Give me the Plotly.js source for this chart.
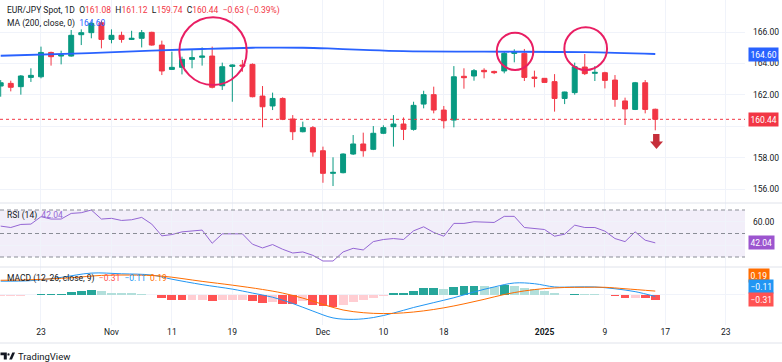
<!DOCTYPE html>
<html><head><meta charset="utf-8">
<script src="https://cdn.plot.ly/plotly-3.0.1.min.js"></script>
<style>html,body{margin:0;padding:0;background:#fff;}#chart{width:782px;height:362px;}</style>
</head><body><div id="chart"></div>
<script>
// ---------- data ----------
const dates = ['Oct 17','Oct 18','Oct 21','Oct 22','Oct 23','Oct 24','Oct 25','Oct 28','Oct 29','Oct 30','Oct 31','Nov 1','Nov 4','Nov 5','Nov 6','Nov 7','Nov 8','Nov 11','Nov 12','Nov 13','Nov 14','Nov 15','Nov 18','Nov 19','Nov 20','Nov 21','Nov 22','Nov 25','Nov 26','Nov 27','Nov 28','Nov 29','Dec 2','Dec 3','Dec 4','Dec 5','Dec 6','Dec 9','Dec 10','Dec 11','Dec 12','Dec 13','Dec 16','Dec 17','Dec 18','Dec 19','Dec 20','Dec 23','Dec 24','Dec 25','Dec 26','Dec 27','Dec 30','Dec 31','Jan 1','Jan 2','Jan 3','Jan 6','Jan 7','Jan 8','Jan 9','Jan 10','Jan 13','Jan 14','Jan 15','Jan 16'];
const openP  = [162.56,162.73,162.52,163.11,163.15,164.70,164.47,164.47,165.83,165.96,166.59,165.53,165.79,165.53,165.60,165.98,165.17,163.62,163.75,164.26,164.39,164.47,162.58,163.81,163.90,163.94,161.92,161.29,161.77,160.46,159.65,159.91,158.44,157.00,157.04,158.23,158.87,158.53,159.55,159.97,160.14,159.80,161.41,162.01,161.03,160.39,163.18,163.20,163.56,163.49,163.52,164.64,164.64,163.13,163.05,162.84,161.77,162.14,163.77,163.37,163.41,162.94,161.61,161.07,162.77,161.08];
const highP  = [162.94,162.90,163.26,163.69,165.07,164.75,164.81,166.13,166.17,166.66,166.72,166.17,166.02,166.08,166.13,166.02,165.45,164.75,164.43,164.85,165.02,165.07,164.05,163.94,164.22,164.00,162.56,162.14,161.84,160.71,160.29,160.01,158.70,158.02,158.27,159.44,159.59,160.01,160.06,160.71,160.56,161.56,162.26,162.52,161.29,163.83,163.69,163.64,163.69,163.54,164.75,164.90,164.92,163.54,163.07,163.32,162.20,164.05,164.60,163.83,163.47,163.26,161.82,162.82,162.94,161.12];
const lowP   = [161.88,162.22,162.01,162.82,163.05,163.86,163.94,164.43,165.17,165.60,164.96,165.28,165.32,165.49,165.02,165.13,163.26,163.58,163.30,163.69,163.86,162.41,162.31,161.56,163.47,161.84,159.93,161.03,160.39,159.12,159.61,158.06,156.40,156.19,157.00,158.17,158.06,158.48,159.50,158.70,159.12,159.72,161.14,160.82,159.86,159.93,162.39,162.90,163.05,163.32,163.37,164.07,162.88,162.48,162.77,160.93,161.41,162.01,163.26,162.88,162.41,161.24,160.08,161.03,160.82,159.74];
const closeP = [162.77,162.48,163.20,163.24,164.70,164.43,164.54,165.79,165.96,166.55,165.53,165.79,165.53,165.60,165.96,165.17,163.52,163.75,164.26,164.37,164.47,162.48,163.79,163.90,163.83,161.88,161.24,161.77,160.44,159.65,159.91,158.36,157.00,157.06,158.23,158.87,158.44,159.55,159.91,160.14,159.80,161.33,162.01,161.03,160.35,163.15,163.09,163.54,163.47,163.41,164.64,164.75,163.11,163.05,162.79,161.77,162.18,163.79,163.35,163.43,162.92,161.71,161.10,162.77,161.07,160.44];
// 200-day moving average, read at points along the line (bar index, value)
const maBar = [0,8,15,20,25,30,33,36,40,48,58,65];
const maVal = [164.49,164.64,164.81,164.92,165.00,165.00,164.94,164.86,164.78,164.75,164.72,164.60];
const rsi = [56.3,55.1,57.7,58.0,64.3,62.3,62.3,67.1,67.7,70.0,62.3,62.9,61.1,61.7,63.7,58.0,48.0,49.1,51.4,52.3,52.9,41.7,49.7,49.7,49.7,40.9,37.7,40.6,36.6,33.4,34.3,31.4,26.6,26.6,34.3,37.4,36.0,43.1,44.9,45.7,44.9,52.3,55.7,50.9,47.7,58.6,58.6,60.0,60.0,59.4,64.6,64.6,55.1,54.3,53.4,47.7,49.4,57.1,55.1,55.1,52.0,45.7,43.1,51.4,44.3,42.04];
const macdBar = [0,3,6,9,12,15,17,20,23,25,27,29,31,33,35,37,39,41,43,45,47,49,51,53,55,57,59,61,63,65];
const macdVal = [0.74,0.77,0.95,1.19,1.15,1.08,0.85,0.55,0.30,0.08,-0.15,-0.50,-0.92,-1.30,-1.38,-1.28,-1.03,-0.72,-0.45,-0.18,0.14,0.42,0.64,0.60,0.42,0.42,0.42,0.32,0.16,-0.11];
const signalBar = [0,3,7,10,13,16,20,23,26,28,30,32,34,36,38,40,42,44,46,48,50,52,54,56,58,60,62,65];
const signalVal = [0.79,0.82,0.93,1.06,1.08,1.02,0.73,0.52,0.28,0.08,-0.20,-0.55,-0.86,-1.01,-1.06,-1.02,-0.91,-0.74,-0.52,-0.27,0.00,0.20,0.33,0.39,0.40,0.40,0.32,0.19];
const hist = [-0.06,-0.06,-0.06,-0.05,0.03,0.04,0.05,0.14,0.21,0.24,0.19,0.11,0.08,0.06,0.05,-0.03,-0.18,-0.32,-0.33,-0.32,-0.31,-0.38,-0.33,-0.32,-0.30,-0.38,-0.46,-0.44,-0.52,-0.53,-0.37,-0.59,-0.65,-0.69,-0.59,-0.44,-0.33,-0.19,-0.07,0.06,0.11,0.22,0.35,0.36,0.30,0.41,0.46,0.50,0.48,0.41,0.52,0.48,0.37,0.28,0.17,0.06,-0.03,0.03,0.02,0.01,-0.03,-0.11,-0.20,-0.17,-0.22,-0.31];
const tickIdx = [4,11,17,23,32,38,44,54,60,66,72];
const tickLabels = ['23','Nov','11','19','Dec','10','18','2025','9','17','23'];
const priceTicks = [156,158,160,162,164,166];
const rsiTicks = [40,60];

// ---------- helpers ----------
const W = 782, PH = 325;               // plot area height (pixels)
const px = x => x / W;
const py = y => (PH - y) / PH;
const idx = dates.map((d, i) => i);
const last = closeP.length - 1;
const FONT = 'Roboto, "Open Sans", sans-serif';
const TXT = '#131722';
const GREEN = '#089981', RED = '#F23645';
const xEnd = px(745);

const histColors = hist.map((h, i) => {
  const p = i > 0 ? hist[i - 1] : h;
  if (h >= 0) return h >= p ? '#26A69A' : '#B2DFDB';
  return h < p ? '#FF5252' : '#FFCDD2';
});

const traces = [
  {type: 'candlestick', x: idx, open: openP, high: highP, low: lowP, close: closeP,
   xaxis: 'x', yaxis: 'y', hoverinfo: 'skip', whiskerwidth: 0,
   increasing: {line: {color: GREEN, width: 1}, fillcolor: GREEN},
   decreasing: {line: {color: RED, width: 1}, fillcolor: RED}},
  {type: 'scatter', mode: 'lines', x: maBar, y: maVal, xaxis: 'x', yaxis: 'y',
   line: {color: '#2962FF', width: 1.8, shape: 'spline'}, hoverinfo: 'skip'},
  {type: 'scatter', mode: 'lines', x: idx, y: rsi, xaxis: 'x', yaxis: 'y2',
   line: {color: '#9466d4', width: 1}, hoverinfo: 'skip'},
  {type: 'bar', x: idx, y: hist, xaxis: 'x', yaxis: 'y3', width: 0.88,
   marker: {color: histColors, line: {width: 0}}, hoverinfo: 'skip'},
  {type: 'scatter', mode: 'lines', x: macdBar, y: macdVal, xaxis: 'x', yaxis: 'y3',
   line: {color: '#2196F3', width: 1, shape: 'spline'}, hoverinfo: 'skip'},
  {type: 'scatter', mode: 'lines', x: signalBar, y: signalVal, xaxis: 'x', yaxis: 'y3',
   line: {color: '#FF6D00', width: 1, shape: 'spline'}, hoverinfo: 'skip'}
];

const dPrice = [py(203), 1], dRsi = [py(267), py(203)], dMacd = [0, py(267)];
const gridC = '#f0f3fa';
const yCommon = {side: 'right', showline: false, zeroline: false, ticks: '', gridcolor: gridC,
  tickfont: {family: FONT, size: 8.5, color: TXT}, ticklabelstandoff: 7, fixedrange: true};

// labels hidden behind the value boxes (last price / last RSI) are left blank
const lastRounded = Math.round(closeP[last]);
const priceText = priceTicks.map(v => Math.abs(v - closeP[last]) < 0.6 ? '' : v.toFixed(2));
const rsiText = rsiTicks.map(v => Math.abs(v - rsi[rsi.length - 1]) < 4 ? '' : v.toFixed(2));

const layout = {
  width: 782, height: 362, margin: {l: 0, r: 0, t: 0, b: 362 - PH},
  paper_bgcolor: '#fff', plot_bgcolor: '#fff', showlegend: false, bargap: 0,
  font: {family: FONT, color: TXT},
  xaxis: {domain: [0, xEnd], range: [-0.07, 73.91], anchor: 'y3', tickmode: 'array',
    tickvals: tickIdx, ticktext: tickLabels.map(t => /^\d{4}$/.test(t) ? '<b>' + t + '</b>' : t),
    showgrid: true, gridcolor: gridC, zeroline: false, showline: false, ticks: '',
    tickfont: {family: FONT, size: 8.5, color: TXT}, rangeslider: {visible: false}, fixedrange: true},
  yaxis: Object.assign({}, yCommon, {domain: dPrice, range: [155.11, 168.04], anchor: 'x',
    tickmode: 'array', tickvals: priceTicks, ticktext: priceText}),
  yaxis2: Object.assign({}, yCommon, {domain: dRsi, range: [21.49, 75.96], anchor: 'x',
    tickmode: 'array', tickvals: rsiTicks, ticktext: rsiText}),
  yaxis3: Object.assign({}, yCommon, {domain: dMacd, range: [-1.694, 1.528], anchor: 'x',
    tickmode: 'array', tickvals: [0], ticktext: ['']}),
  shapes: [],
  annotations: []
};

const S = layout.shapes, A = layout.annotations;
// pane separators and bottom border
[203, 267, 343].forEach(y => S.push({type: 'line', xref: 'paper', yref: 'paper', x0: 0, x1: 1,
  y0: py(y), y1: py(y), line: {color: '#e0e3eb', width: 1}}));
// RSI band + dashed levels
S.push({type: 'rect', xref: 'paper', yref: 'y2', x0: 0, x1: xEnd, y0: 30, y1: 70,
  fillcolor: 'rgba(126,87,194,0.1)', line: {width: 0}, layer: 'below'});
[70, 50, 30].forEach(v => S.push({type: 'line', xref: 'paper', yref: 'y2', x0: 0, x1: xEnd,
  y0: v, y1: v, line: {color: '#8a8d96', width: 1, dash: '4px,3px'}}));
// last price dotted line
S.push({type: 'line', xref: 'paper', yref: 'y', x0: 0, x1: xEnd, y0: closeP[last], y1: closeP[last],
  line: {color: RED, width: 1, dash: 'dot'}});
// highlight circles
[[17.74, 24.43, 162.62, 166.94], [49.26, 52.89, 163.58, 165.96], [55.97, 60.21, 163.58, 166.30]]
  .forEach(c => S.push({type: 'circle', xref: 'x', yref: 'y', x0: c[0], x1: c[1], y0: c[2], y1: c[3],
    line: {color: '#E91E63', width: 2}}));
// down arrow
S.push({type: 'path', xref: 'x', yref: 'y', fillcolor: '#C62F3B', line: {width: 0},
  path: 'M64.78,159.50 L65.42,159.50 L65.42,159.02 L65.77,159.02 L65.12,158.55 L64.48,159.02 L64.78,159.02 Z'});
// TradingView logo
const P = (x, y) => px(x) + ',' + py(y);
S.push({type: 'path', xref: 'paper', yref: 'paper', fillcolor: TXT, line: {width: 0},
  path: 'M' + P(0.5, 352.5) + ' L' + P(6.8, 352.5) + ' L' + P(6.8, 359.5) + ' L' + P(3.8, 359.5) + ' L' + P(3.8, 355.3) + ' L' + P(0.5, 355.3) + ' Z'});
S.push({type: 'circle', xref: 'paper', yref: 'paper', x0: px(7.4), x1: px(9.6), y0: py(355.6), y1: py(353.2),
  fillcolor: TXT, line: {width: 0}});
S.push({type: 'path', xref: 'paper', yref: 'paper', fillcolor: TXT, line: {width: 0},
  path: 'M' + P(9.2, 359.5) + ' L' + P(12.3, 352.5) + ' L' + P(15, 352.5) + ' L' + P(12, 359.5) + ' Z'});

// ---------- texts ----------
const red = s => '<span style="color:' + RED + '">' + s + '</span>';
const sp = '\u00a0\u00a0';
const chg = closeP[last] - closeP[last - 1];
const pct = chg / closeP[last - 1] * 100;
const fmtS = v => (v < 0 ? '\u2212' : '') + Math.abs(v).toFixed(2);
const leg1 = 'EUR/JPY Spot, 1D' + sp + 'O' + red(openP[last].toFixed(2)) + sp + 'H' + red(highP[last].toFixed(2)) +
  sp + 'L' + red(lowP[last].toFixed(2)) + sp + 'C' + red(closeP[last].toFixed(2)) + sp +
  red(fmtS(chg) + ' (' + fmtS(pct) + '%)');
const maLast = maVal[maVal.length - 1];
const leg2 = 'MA (200, close, 0)' + sp + '<span style="color:#2962FF">' + maLast.toFixed(2) + '</span>';
const rsiLast = rsi[rsi.length - 1];
const leg3 = 'RSI (14)' + sp + '<span style="color:#9466d4">' + rsiLast.toFixed(2) + '</span>';
const mL = macdVal[macdVal.length - 1], sL = signalVal[signalVal.length - 1], hL = hist[hist.length - 1];
const leg4 = 'MACD (12, 26, close, 9)' + sp + '<span style="color:#FF5252">' + fmtS(hL) + '</span>' + sp +
  '<span style="color:#2196F3">' + fmtS(mL) + '</span>' + sp + '<span style="color:#FF6D00">' + fmtS(sL) + '</span>';
const lab = (text, y) => ({xref: 'paper', yref: 'paper', x: px(5), y: py(y), xanchor: 'left', yanchor: 'middle',
  text: text, showarrow: false, font: {family: FONT, size: 8.5, color: TXT}});
A.push(lab(leg1, 10.7), lab(leg2, 23.3), lab(leg3, 215), lab(leg4, 278.7));
const box = (text, color, yref, y) => ({xref: 'paper', yref: yref, x: px(748), y: y, xanchor: 'left', yanchor: 'middle',
  text: text, showarrow: false, bgcolor: color, borderpad: 1.5,
  font: {family: FONT, size: 8.5, color: '#fff'}});
A.push(box(maLast.toFixed(2), '#2962FF', 'y', maLast));
A.push(box(closeP[last].toFixed(2), RED, 'y', closeP[last]));
A.push(box(rsiLast.toFixed(2), '#9C55CF', 'y2', rsiLast));
A.push(box(fmtS(sL), '#FF6D00', 'paper', py(275.5)));
A.push(box(fmtS(mL), '#2196F3', 'paper', py(286.5)));
A.push(box(fmtS(hL), '#FF5252', 'paper', py(299)));
A.push({xref: 'paper', yref: 'paper', x: px(16), y: py(356), xanchor: 'left', yanchor: 'middle',
  text: 'TradingView', showarrow: false, font: {family: FONT, size: 9.5, color: TXT}});

Plotly.newPlot('chart', traces, layout, {staticPlot: true, displayModeBar: false});
</script>
</body></html>
